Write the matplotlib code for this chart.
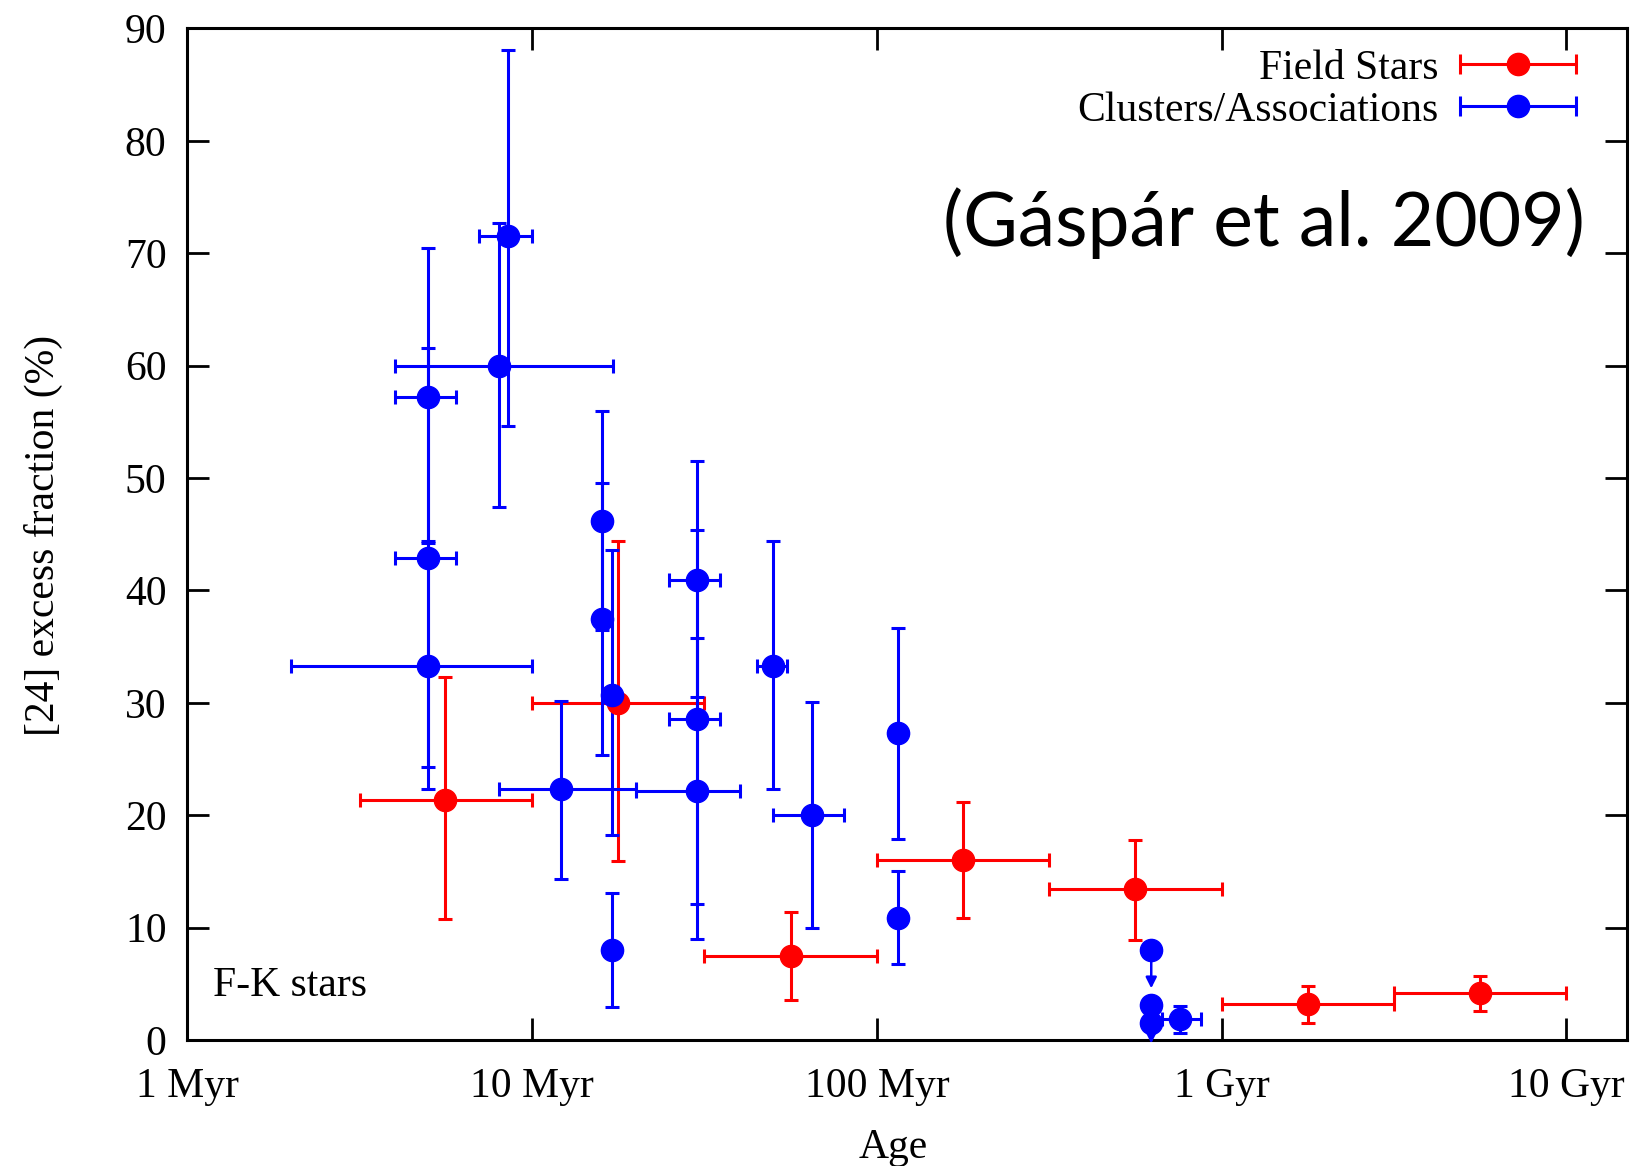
import numpy as np
import matplotlib
matplotlib.use("Agg")
import matplotlib.pyplot as plt
from matplotlib.container import ErrorbarContainer
from matplotlib.legend_handler import HandlerErrorbar

# Field stars: age bins (Myr) and 24 micron excess fraction (%)
field_age = np.array([5.6, 17.8, 56.2, 178, 562, 1780, 5620])
field_age_lo = np.array([3.16, 10, 31.6, 100, 316, 1000, 3160])
field_age_hi = np.array([10, 31.6, 100, 316, 1000, 3160, 10000])
field_frac = np.array([21.4, 30.0, 7.5, 16.0, 13.4, 3.2, 4.2])
field_frac_lo = np.array([10.8, 15.9, 3.6, 10.9, 8.9, 1.5, 2.6])
field_frac_hi = np.array([32.3, 44.4, 11.4, 21.2, 17.8, 4.8, 5.7])

# Clusters / associations
clus_age = np.array([5.0, 5.0, 5.0, 8.0, 8.5, 16.0, 16.0, 17.0, 17.0, 12.1, 30.1,
                     30.1, 30.1, 50.0, 64.9, 115, 115, 625, 625, 625, 757])
clus_age_lo = np.array([4.0, 4.0, 2.0, 4.0, 7.0, 15.2, 15.2, 17.0, 16.2, 8.0, 20.0,
                        25.0, 25.0, 45.0, 50.0, 109, 109, 595, 595, 595, 670])
clus_age_hi = np.array([6.0, 6.0, 10.0, 17.2, 10.0, 16.8, 16.8, 17.0, 17.8, 20.0, 40.2,
                        35.1, 35.1, 55.0, 80.4, 121, 121, 655, 655, 655, 874])
clus_frac = np.array([57.2, 42.9, 33.3, 60.0, 71.5, 46.2, 37.5, 30.7, 8.0, 22.3, 22.2,
                      28.6, 40.9, 33.3, 20.0, 27.3, 10.9, 8.0, 3.1, 1.5, 1.85])
clus_frac_lo = np.array([44.2, 24.3, 22.3, 47.4, 54.6, 36.5, 25.4, 18.2, 2.9, 14.3, 9.0,
                         12.1, 30.5, 22.3, 10.0, 17.9, 6.8, 8.0, 3.1, 1.5, 0.6])
clus_frac_hi = np.array([70.5, 61.6, 44.4, 72.7, 88.1, 56.0, 49.6, 43.6, 13.1, 30.2, 35.8,
                         45.4, 51.5, 44.4, 30.1, 36.7, 15.0, 8.0, 3.1, 1.5, 3.06])
clus_uplim = np.array([False] * 17 + [True, True, False, False])

tick_pos = [1, 10, 100, 1000, 10000]
tick_labels = ["1 Myr", "10 Myr", "100 Myr", "1 Gyr", "10 Gyr"]

plt.rcParams["font.family"] = ["Liberation Serif", "DejaVu Serif"]

fig = plt.figure(figsize=(16.51, 11.66), dpi=100)
ax = fig.add_axes([0.1135, 0.108, 0.872, 0.8676])

eb_kw = dict(fmt="o", ms=16, elinewidth=2.2, capsize=5, capthick=2.2)

ax.errorbar(field_age, field_frac,
            xerr=[field_age - field_age_lo, field_age_hi - field_age],
            yerr=[field_frac - field_frac_lo, field_frac_hi - field_frac],
            color="#ff0000", **eb_kw)
ax.errorbar(clus_age, clus_frac,
            xerr=[clus_age - clus_age_lo, clus_age_hi - clus_age],
            yerr=[clus_frac - clus_frac_lo, clus_frac_hi - clus_frac],
            color="#0000ff", **eb_kw)

# upper limits drawn as downward arrows
for a, f in zip(clus_age[clus_uplim], clus_frac[clus_uplim]):
    ax.annotate("", xy=(a, f - 3.4), xytext=(a, f),
                arrowprops=dict(arrowstyle="-|>", color="#0000ff", lw=1.8,
                                mutation_scale=16, shrinkA=0, shrinkB=0),
                annotation_clip=False)

ax.set_xscale("log")
ax.set_xlim(1, 15000)
ax.set_ylim(0, 90)
ax.set_xticks(tick_pos)
ax.set_xticklabels(tick_labels)
ax.set_yticks(np.arange(0, 91, 10))
ax.minorticks_off()
ax.tick_params(which="major", direction="in", length=16, width=2,
               top=True, right=True, labelsize=30)
ax.tick_params(axis="x", pad=20)
ax.tick_params(axis="y", pad=15)
for s in ax.spines.values():
    s.set_linewidth(2.2)

# legend proxies: horizontal error bar with caps
p1 = ax.errorbar([np.nan], [np.nan], xerr=[1], fmt="o", color="#ff0000", ms=16,
                 elinewidth=2.2, capsize=7, capthick=2.2)
p2 = ax.errorbar([np.nan], [np.nan], xerr=[1], fmt="o", color="#0000ff", ms=16,
                 elinewidth=2.2, capsize=7, capthick=2.2)
ax.legend([p1, p2], ["Field Stars", "Clusters/Associations"],
          handler_map={ErrorbarContainer: HandlerErrorbar(xerr_size=1.4)},
          loc="upper right", bbox_to_anchor=(0.985, 1.008), frameon=False,
          markerfirst=False, fontsize=30, handlelength=2.8, labelspacing=0.08,
          handletextpad=0.5, borderaxespad=0.3)

ax.text(0.971, 0.808, "(Gáspár et al. 2009)", transform=ax.transAxes,
        ha="right", va="center", fontsize=54, family=["Lato", "DejaVu Sans"])
ax.text(0.018, 0.054, "F-K stars", transform=ax.transAxes,
        ha="left", va="center", fontsize=30)

fig.text(0.0265, 0.541, "[24] excess fraction (%)", rotation=90,
         ha="center", va="center", fontsize=30)
fig.text(0.541, 0.016, "Age", ha="center", va="center", fontsize=30)

fig.savefig("out.png", dpi=100)
